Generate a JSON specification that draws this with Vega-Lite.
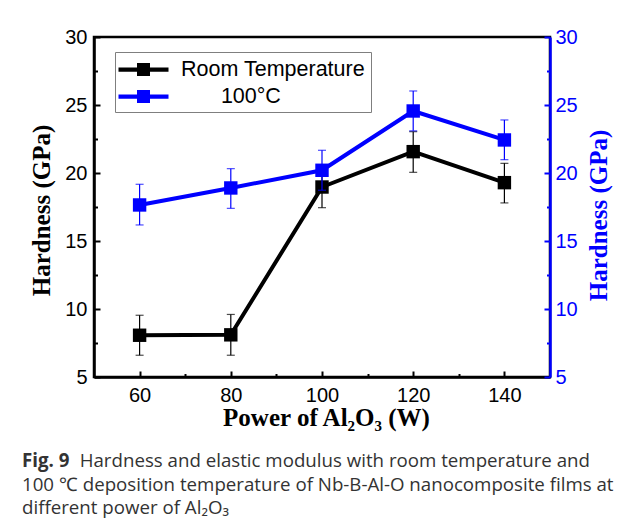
{
  "$schema": "https://vega.github.io/schema/vega-lite/v6.json",
  "width": 456,
  "height": 340,
  "autosize": {"type": "none"},
  "padding": {"left": 94, "top": 37, "right": 72, "bottom": 155},
  "background": "white",
  "config": {
    "view": {"stroke": "#000000", "strokeWidth": 2.5},
    "axis": {"grid": false}
  },
  "title": {
    "text": "Fig. 9",
    "subtitle": [
      "\u2800\u00a0\u00a0\u00a0\u00a0\u00a0\u00a0\u00a0\u00a0\u00a0Hardness and elastic modulus with room temperature and",
      "100 \u2103 deposition temperature of Nb-B-Al-O nanocomposite films at",
      "different power of Al\u2082O\u2083"
    ],
    "orient": "bottom",
    "anchor": "start",
    "frame": "group",
    "dx": -72,
    "offset": 22,
    "font": "Open Sans",
    "fontSize": 18.7,
    "fontWeight": "bold",
    "color": "#333333",
    "subtitleFont": "Open Sans",
    "subtitleFontSize": 18.7,
    "subtitleFontWeight": "normal",
    "subtitleColor": "#333333",
    "subtitleLineHeight": 23.5,
    "subtitlePadding": -18.7
  },
  "data": {
    "values": [
      {"power": 60, "series": "Room Temperature", "h": 8.07, "lo": 6.6, "hi": 9.54},
      {"power": 80, "series": "Room Temperature", "h": 8.1, "lo": 6.6, "hi": 9.6},
      {"power": 100, "series": "Room Temperature", "h": 18.97, "lo": 17.45, "hi": 20.5},
      {"power": 120, "series": "Room Temperature", "h": 21.57, "lo": 20.05, "hi": 23.04},
      {"power": 140, "series": "Room Temperature", "h": 19.29, "lo": 17.8, "hi": 20.71},
      {"power": 60, "series": "100°C", "h": 17.65, "lo": 16.18, "hi": 19.17},
      {"power": 80, "series": "100°C", "h": 18.9, "lo": 17.4, "hi": 20.32},
      {"power": 100, "series": "100°C", "h": 20.2, "lo": 18.73, "hi": 21.67},
      {"power": 120, "series": "100°C", "h": 24.56, "lo": 23.1, "hi": 26.03},
      {"power": 140, "series": "100°C", "h": 22.43, "lo": 20.98, "hi": 23.9}
    ]
  },
  "encoding": {
    "x": {
      "field": "power",
      "type": "quantitative",
      "scale": {"domain": [50, 150], "nice": false, "zero": false},
      "axis": {
        "title": "Power of Al\u2082O\u2083 (W)",
        "titleFont": "Liberation Serif",
        "titleFontSize": 25,
        "titleFontWeight": "bold",
        "titleColor": "#000000",
        "titleX": 232,
        "titleY": 48,
        "titleBaseline": "alphabetic",
        "values": [60, 70, 80, 90, 100, 110, 120, 130, 140],
        "labelExpr": "datum.value % 20 === 0 ? datum.label : ''",
        "labelFont": "Liberation Sans",
        "labelFontSize": 20,
        "labelColor": "#000000",
        "labelPadding": 14,
        "labelFlush": false,
        "domainColor": "#000000",
        "domainWidth": 2.5,
        "tickColor": "#000000",
        "tickWidth": 2,
        "tickSize": {"condition": {"test": "datum.value % 20 === 0", "value": -6}, "value": -3.5}
      }
    },
    "color": {
      "field": "series",
      "type": "nominal",
      "scale": {"domain": ["Room Temperature", "100°C"], "range": ["#000000", "#0000ff"]},
      "legend": {
        "title": null,
        "orient": "none",
        "legendX": 21,
        "legendY": 15,
        "padding": 5,
        "fillColor": "#ffffff",
        "strokeColor": "#7f7f7f",
        "symbolType": "M-2,-0.17H2V0.17H-2Z M-0.52,-0.52H0.52V0.52H-0.52Z",
        "symbolSize": 625,
        "symbolStrokeWidth": 0,
        "symbolOpacity": 1,
        "symbolOffset": 11,
        "labelOffset": 25,
        "labelFont": "Liberation Sans",
        "labelFontSize": 21.5,
        "labelColor": "#000000",
        "labelLimit": 300,
        "rowPadding": 4,
        "labelExpr": "datum.value === '100°C' ? '\u2800\u00a0\u00a0\u00a0\u00a0100°C' : datum.label"
      }
    }
  },
  "layer": [
    {
      "transform": [{"filter": "datum.series === 'Room Temperature'"}],
      "encoding": {
        "y": {
          "type": "quantitative",
          "scale": {"domain": [5, 30], "nice": false, "zero": false},
          "axis": {
            "orient": "left",
            "title": "Hardness (GPa)",
            "titleFont": "Liberation Serif",
            "titleFontSize": 25,
            "titleFontWeight": "bold",
            "titleColor": "#000000",
            "titleAngle": 270,
            "titleX": -45,
            "titleY": 173,
            "titleBaseline": "alphabetic",
            "values": [5, 7.5, 10, 12.5, 15, 17.5, 20, 22.5, 25, 27.5, 30],
            "labelExpr": "datum.value % 5 === 0 ? datum.label : ''",
            "labelFont": "Liberation Sans",
            "labelFontSize": 20,
            "labelColor": "#000000",
            "labelPadding": 13,
            "labelFlush": false,
            "domainColor": "#000000",
            "domainWidth": 2.5,
            "tickColor": "#000000",
            "tickWidth": 2,
            "tickSize": {"condition": {"test": "datum.value % 5 === 0", "value": -6}, "value": -3.5}
          }
        }
      },
      "layer": [
        {"mark": {"type": "rule", "strokeWidth": 1.2}, "encoding": {"y": {"field": "lo"}, "y2": {"field": "hi"}}},
        {"mark": {"type": "tick", "orient": "horizontal", "size": 8, "thickness": 1.2}, "encoding": {"y": {"field": "lo"}}},
        {"mark": {"type": "tick", "orient": "horizontal", "size": 8, "thickness": 1.2}, "encoding": {"y": {"field": "hi"}}},
        {"mark": {"type": "line", "strokeWidth": 4}, "encoding": {"y": {"field": "h"}}},
        {"mark": {"type": "point", "shape": "square", "filled": true, "size": 180, "opacity": 1}, "encoding": {"y": {"field": "h"}}}
      ]
    },
    {
      "transform": [{"filter": "datum.series === '100°C'"}],
      "encoding": {
        "y": {
          "type": "quantitative",
          "scale": {"domain": [5, 30], "nice": false, "zero": false},
          "axis": {
            "orient": "right",
            "title": "Hardness (GPa)",
            "titleFont": "Liberation Serif",
            "titleFontSize": 25,
            "titleFontWeight": "bold",
            "titleColor": "#0000ff",
            "titleAngle": 270,
            "titleX": 56,
            "titleY": 178,
            "titleBaseline": "alphabetic",
            "values": [5, 7.5, 10, 12.5, 15, 17.5, 20, 22.5, 25, 27.5, 30],
            "labelExpr": "datum.value % 5 === 0 ? datum.label : ''",
            "labelFont": "Liberation Sans",
            "labelFontSize": 20,
            "labelColor": "#0000ff",
            "labelPadding": 11,
            "labelFlush": false,
            "domainColor": "#0000ff",
            "domainWidth": 2.5,
            "tickColor": "#0000ff",
            "tickWidth": 2,
            "tickSize": {"condition": {"test": "datum.value % 5 === 0", "value": -6}, "value": -3.5}
          }
        }
      },
      "layer": [
        {"mark": {"type": "rule", "strokeWidth": 1.2}, "encoding": {"y": {"field": "lo"}, "y2": {"field": "hi"}}},
        {"mark": {"type": "tick", "orient": "horizontal", "size": 8, "thickness": 1.2}, "encoding": {"y": {"field": "lo"}}},
        {"mark": {"type": "tick", "orient": "horizontal", "size": 8, "thickness": 1.2}, "encoding": {"y": {"field": "hi"}}},
        {"mark": {"type": "line", "strokeWidth": 4}, "encoding": {"y": {"field": "h"}}},
        {"mark": {"type": "point", "shape": "square", "filled": true, "size": 180, "opacity": 1}, "encoding": {"y": {"field": "h"}}}
      ]
    }
  ],
  "resolve": {"scale": {"y": "independent"}, "axis": {"y": "independent"}}
}
